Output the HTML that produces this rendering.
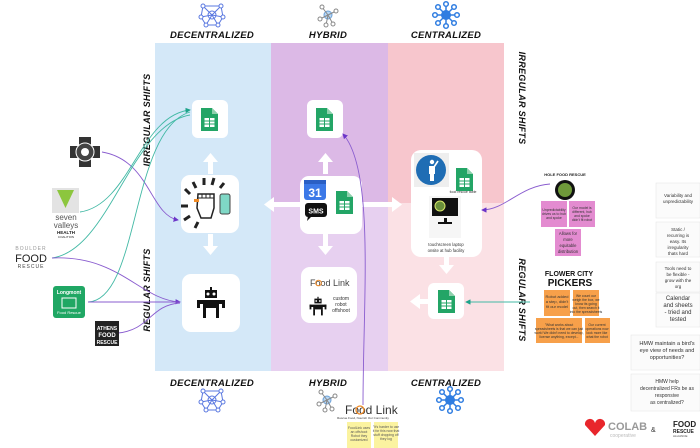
<!DOCTYPE html>
<html><head><meta charset="utf-8"><style>
html,body{margin:0;padding:0;background:#fff;}
body{width:700px;height:448px;overflow:hidden;position:relative;font-family:"Liberation Sans",sans-serif;}
svg{position:absolute;left:0;top:0;}
.h{font-family:"Liberation Sans",sans-serif;font-weight:bold;font-style:italic;fill:#111;letter-spacing:0.3px;}
.s{font-family:"Liberation Sans",sans-serif;fill:#333;}
</style></head><body>
<svg width="700" height="448" viewBox="0 0 700 448">
<defs>
<g id="sheet"><path d="M0 0h11l6 6v17h-17z" fill="#23a566"/><path d="M11 0v6h6z" fill="#8ed1ad"/><rect x="3.5" y="10" width="10" height="9" fill="#fff"/><path d="M3.5 13h10M3.5 16h10M8.5 10v9" stroke="#23a566" stroke-width="1"/></g>
<marker id="ap" markerWidth="6" markerHeight="6" refX="5" refY="3" orient="auto"><path d="M0 0L6 3L0 6z" fill="#6b35c9"/></marker>
<marker id="at" markerWidth="6" markerHeight="6" refX="5" refY="3" orient="auto"><path d="M0 0L6 3L0 6z" fill="#1ea38a"/></marker>
<g id="net"><circle cx="0" cy="0" r="4" fill="none" stroke="#5a78e0"/><g stroke="#5a78e0" fill="none"><path d="M-9 -9L0 0L9 -9M-11 2L0 0L11 2M-6 10L0 0L6 10M-9 -9L-11 2L-6 10L6 10L11 2L9 -9L-9 -9"/></g><g fill="#fff" stroke="#5a78e0"><circle cx="-9" cy="-9" r="2"/><circle cx="9" cy="-9" r="2"/><circle cx="-11" cy="2" r="2"/><circle cx="11" cy="2" r="2"/><circle cx="-6" cy="10" r="2"/><circle cx="6" cy="10" r="2"/></g></g>
<g id="hyb"><circle r="4" fill="#b9d8f5" stroke="#6ba0d8"/><g stroke="#888" fill="none"><path d="M0 0L-6 -8M0 0L8 -4M0 0L-8 4M0 0L5 9M0 0L-2 10"/></g><g fill="#fff" stroke="#888"><circle cx="-6" cy="-8" r="2"/><circle cx="8" cy="-4" r="2"/><circle cx="-8" cy="4" r="2"/><circle cx="5" cy="9" r="2"/><circle cx="-2" cy="10" r="2"/></g></g>
<g id="cen"><circle r="5" fill="#2f7de1"/><g stroke="#2f7de1" stroke-width="1.5"><path d="M0 -11V11M-11 0H11M-8 -8L8 8M8 -8L-8 8"/></g><g fill="#fff" stroke="#2f7de1" stroke-width="1.5"><circle cx="0" cy="-11" r="2.3"/><circle cx="0" cy="11" r="2.3"/><circle cx="-11" cy="0" r="2.3"/><circle cx="11" cy="0" r="2.3"/><circle cx="-8" cy="-8" r="2.3"/><circle cx="8" cy="8" r="2.3"/><circle cx="8" cy="-8" r="2.3"/><circle cx="-8" cy="8" r="2.3"/></g></g>
<g id="robot"><rect x="-6" y="-14" width="12" height="8" fill="#111"/><circle cx="-3" cy="-10" r="1.5" fill="#fff"/><circle cx="3" cy="-10" r="1.5" fill="#fff"/><rect x="-1" y="-17" width="2" height="3" fill="#111"/><rect x="-14" y="-4" width="28" height="4" fill="#111"/><rect x="-14" y="-4" width="3" height="8" fill="#111"/><rect x="11" y="-4" width="3" height="8" fill="#111"/><rect x="-8" y="0" width="16" height="4" fill="#111"/><rect x="-8" y="4" width="3" height="10" fill="#111"/><rect x="5" y="4" width="3" height="10" fill="#111"/></g>
</defs>
<rect x="155" y="43" width="116" height="328" fill="#d4e8f8"/>
<rect x="271" y="43" width="117" height="160" fill="#dcb9e6"/>
<rect x="271" y="203" width="117" height="168" fill="#e7d0f0"/>
<rect x="388" y="43" width="116" height="160" fill="#f7c6cd"/>
<rect x="388" y="203" width="116" height="168" fill="#fbe1e5"/>
<use href="#net" x="212" y="15"/><use href="#hyb" x="328" y="15"/><use href="#cen" x="446" y="15"/>
<text class="h" x="212" y="38" font-size="9.5" text-anchor="middle">DECENTRALIZED</text>
<text class="h" x="328" y="38" font-size="9.5" text-anchor="middle">HYBRID</text>
<text class="h" x="446" y="38" font-size="9.5" text-anchor="middle">CENTRALIZED</text>
<text class="h" x="212" y="386" font-size="9.5" text-anchor="middle">DECENTRALIZED</text>
<text class="h" x="328" y="386" font-size="9.5" text-anchor="middle">HYBRID</text>
<text class="h" x="446" y="386" font-size="9.5" text-anchor="middle">CENTRALIZED</text>
<use href="#net" x="212" y="400"/><use href="#hyb" x="327" y="400"/><use href="#cen" x="450" y="400"/>
<text class="h" font-size="9" transform="translate(150,120) rotate(-90)" text-anchor="middle">IRREGULAR SHIFTS</text>
<text class="h" font-size="9" transform="translate(150,290) rotate(-90)" text-anchor="middle">REGULAR SHIFTS</text>
<text class="h" font-size="9" transform="translate(519,98) rotate(90)" text-anchor="middle">IRREGULAR SHIFTS</text>
<text class="h" font-size="9" transform="translate(519,300) rotate(90)" text-anchor="middle">REGULAR SHIFTS</text>
<g fill="#fff">
<rect x="208" y="160" width="5" height="14"/><path d="M203 162l7.5-9l7.5 9z"/>
<rect x="208" y="234" width="5" height="14"/><path d="M203 246l7.5 9l7.5-9z"/>
<rect x="323" y="160" width="5" height="14"/><path d="M318 162l7.5-9l7.5 9z"/>
<rect x="323" y="234" width="5" height="14"/><path d="M318 246l7.5 9l7.5-9z"/>
<rect x="272" y="202" width="28" height="5"/><path d="M274 197l-10 7.5l10 7.5z"/>
<rect x="362" y="202" width="32" height="5"/><path d="M392 197l10 7.5l-10 7.5z"/>
<rect x="444" y="257" width="5" height="10"/><path d="M439 265l7.5 9l7.5-9z"/>
<rect x="418" y="299" width="10" height="5"/><path d="M420 294l-10 7.5l10 7.5z"/>
</g>
<g fill="#fff">
<rect x="192" y="100" width="36" height="38" rx="6"/>
<rect x="181" y="175" width="58" height="58" rx="9"/>
<rect x="182" y="274" width="58" height="58" rx="9"/>
<rect x="307" y="100" width="36" height="38" rx="6"/>
<rect x="300" y="176" width="62" height="58" rx="9"/>
<rect x="301" y="267" width="56" height="56" rx="9"/>
<rect x="411" y="150" width="71" height="107" rx="10"/>
<rect x="428" y="283" width="36" height="36" rx="6"/>
</g>
<use href="#sheet" x="201" y="108"/><use href="#sheet" x="316" y="108"/><use href="#sheet" x="438" y="290"/>
<g transform="translate(208,204)">
<g stroke="#222" stroke-width="3"><path d="M-18 -10l-5 -5M-12 -16l-3 -6M-4 -19v-7M4 -19l2 -7M12 -16l4 -5M-20 2h-7M-18 12l-6 4M-10 18l-3 6"/></g>
<path d="M-10 -10h16v14l-3 10h-10l-4 -10z" fill="#fff" stroke="#222" stroke-width="1.5"/>
<path d="M-10 -10v4h16M-6 -10v4M-2 -10v4M2 -10v4" stroke="#222" fill="none"/>
<rect x="-14" y="-5" width="5" height="3" fill="#f08a25"/>
<rect x="12" y="-10" width="10" height="20" rx="2" fill="#7fd8c6" stroke="#444"/>
</g>
<use href="#robot" x="211" y="304"/>
<rect x="304" y="180" width="22" height="20" rx="3" fill="#3b78e7"/><rect x="304" y="180" width="22" height="4" fill="#2a5fc4"/>
<text x="315" y="197" font-size="12" fill="#fff" text-anchor="middle" font-weight="bold">31</text>
<rect x="305" y="203" width="22" height="14" rx="3" fill="#111"/><path d="M308 216l-1 5l5-5z" fill="#111"/>
<text x="316" y="213.5" font-size="7" fill="#fff" text-anchor="middle" font-weight="bold">SMS</text>
<use href="#sheet" x="336" y="191"/>
<text x="310" y="286" font-size="9" fill="#444">Food Link</text><circle cx="318.5" cy="283" r="2.8" fill="none" stroke="#f08a25"/>
<use href="#robot" x="318" y="307" transform="translate(318,307) scale(0.6) translate(-318,-307)"/>
<text class="s" font-size="5" x="341" y="300" text-anchor="middle">custom</text>
<text class="s" font-size="5" x="341" y="306" text-anchor="middle">robot</text>
<text class="s" font-size="5" x="341" y="312" text-anchor="middle">offshoot</text>
<rect x="414" y="153" width="35" height="34" fill="#eee"/><circle cx="431" cy="170" r="15" fill="#1f6db4"/>
<circle cx="432" cy="162" r="2.2" fill="#fff"/><path d="M429 166h6v8h-1v7h-4v-7h-1z" fill="#fff"/><path d="M434 167l4-6" stroke="#fff" stroke-width="1.6"/>
<use href="#sheet" x="456" y="168"/>
<text class="s" font-size="3.5" x="463" y="193" text-anchor="middle">food rescue table</text>
<rect x="429" y="196" width="32" height="42" fill="#f6f6f6"/>
<rect x="432" y="198" width="26" height="18" fill="#111"/><circle cx="440" cy="206" r="5" fill="#6a8f3b" stroke="#d8e66a"/><rect x="444" y="218" width="3" height="4" fill="#111"/><rect x="438" y="222" width="14" height="2" fill="#111"/>
<text class="s" font-size="4.2" x="446" y="246" text-anchor="middle">touchscreen laptop</text>
<text class="s" font-size="4.2" x="446" y="252" text-anchor="middle">onsite at hub facility</text>
<g fill="none" stroke-width="0.9">
<path d="M102 152C150 160 150 215 178 220" stroke="#8a5dcf" marker-end="url(#ap)"/>
<path d="M80 212C130 205 140 115 190 110" stroke="#43b9a5" marker-end="url(#at)"/>
<path d="M52 258C110 250 130 125 190 115" stroke="#43b9a5"/>
<path d="M52 258C120 255 140 300 180 302" stroke="#8a5dcf" marker-end="url(#ap)"/>
<path d="M88 302C140 300 130 130 190 112" stroke="#43b9a5"/>
<path d="M88 302H180" stroke="#8a5dcf"/>
<path d="M118 333C150 330 150 305 180 303" stroke="#8a5dcf"/>
<path d="M550 184C520 186 505 210 482 210" stroke="#8a5dcf" marker-end="url(#ap)"/>
<path d="M530 302H466" stroke="#43b9a5" marker-end="url(#at)"/>
<path d="M363 405C363 300 375 170 343 134" stroke="#8a5dcf" marker-end="url(#ap)"/>
</g>
<g transform="translate(85,152)"><path d="M-6 -15h12v9h9v12h-9v9h-12v-9h-9v-12h9z" fill="#333"/><circle r="9" fill="#444" stroke="#fff"/><circle r="4" fill="#fff"/></g>
<rect x="52" y="188" width="27" height="25" fill="#e3e3e3"/><path d="M57 190h17l-8.5 18z" fill="#8cc63e"/>
<text x="66" y="220" font-size="8" fill="#555" text-anchor="middle">seven</text>
<text x="66" y="228" font-size="8" fill="#555" text-anchor="middle">valleys</text>
<text x="66" y="234" font-size="4.5" fill="#222" text-anchor="middle" font-weight="bold">HEALTH</text>
<text x="66" y="238" font-size="3" fill="#222" text-anchor="middle">COALITION</text>
<text x="31" y="250" font-size="5" fill="#999" text-anchor="middle" letter-spacing="1">BOULDER</text>
<text x="31" y="262" font-size="11" fill="#222" text-anchor="middle">FOOD</text>
<text x="31" y="268" font-size="5" fill="#444" text-anchor="middle" letter-spacing="1">RESCUE</text>
<rect x="53" y="286" width="32" height="32" rx="3" fill="#20a764"/>
<text x="69" y="294" font-size="5" fill="#fff" text-anchor="middle" font-weight="bold">Longmont</text>
<text x="69" y="314" font-size="4" fill="#fff" text-anchor="middle">Food Rescue</text>
<rect x="62" y="298" width="14" height="10" fill="none" stroke="#fff"/>
<rect x="95" y="321" width="24" height="25" fill="#222"/>
<text x="107" y="330" font-size="5" fill="#fff" text-anchor="middle" font-weight="bold">ATHENS</text>
<text x="107" y="337" font-size="6" fill="#fff" text-anchor="middle" font-weight="bold">FOOD</text>
<text x="107" y="344" font-size="5" fill="#fff" text-anchor="middle" font-weight="bold">RESCUE</text>
<circle cx="565" cy="190" r="10" fill="#111"/><circle cx="565" cy="190" r="7" fill="#6f9a3a"/>
<text x="565" y="176" font-size="4" fill="#222" text-anchor="middle" font-weight="bold">HOLE FOOD RESCUE</text>
<g font-size="3.4" fill="#333" text-anchor="middle">
<rect x="541" y="201" width="26" height="26" fill="#e38bd0"/><text x="554" y="211">Unpredictability</text><text x="554" y="215">drives us to hub</text><text x="554" y="219">and spoke</text>
<rect x="569" y="201" width="26" height="26" fill="#e38bd0"/><text x="582" y="209">Our model is</text><text x="582" y="213">different, hub</text><text x="582" y="217">and spoke</text><text x="582" y="221">didn't fit robot</text>
<rect x="555" y="229" width="26" height="27" fill="#e38bd0"/>
<text x="568" y="235" font-size="4.2">Allows for</text><text x="568" y="241" font-size="4.2">more</text><text x="568" y="247" font-size="4.2">equitable</text><text x="568" y="253" font-size="4.2">distribution</text>
</g>
<text x="569" y="276" font-size="7" fill="#111" text-anchor="middle" font-weight="bold">FLOWER CITY</text>
<text x="570" y="286" font-size="10" fill="#111" text-anchor="middle" font-weight="bold">PICKERS</text>
<g font-size="3.4" fill="#333" text-anchor="middle">
<rect x="544" y="290" width="26" height="26" fill="#f7a04a"/><text x="557" y="298" font-size="4">Robot added</text><text x="557" y="303" font-size="4">a step, didn't</text><text x="557" y="308" font-size="4">fit our model</text>
<rect x="573" y="290" width="26" height="26" fill="#f7a04a"/><text x="586" y="297">We count our</text><text x="586" y="301">weigh the box, we</text><text x="586" y="305">know its going</text><text x="586" y="309">out, then search it</text><text x="586" y="313">into the spreadsheets</text>
<rect x="536" y="318" width="46" height="25" fill="#f7a04a"/><text x="559" y="326">"What works about</text><text x="559" y="330">spreadsheets is that we can just</text><text x="559" y="334">work! We didn't need to develop,</text><text x="559" y="338">license anything, except...</text>
<rect x="585" y="318" width="25" height="25" fill="#f7a04a"/><text x="597" y="326">Our current</text><text x="597" y="330">operations now</text><text x="597" y="334">look more like</text><text x="597" y="338">what the robot</text>
</g>
<g fill="#fbfbfb" stroke="#e4e4e4" stroke-width="0.5">
<rect x="656" y="183" width="44" height="35"/><rect x="656" y="222" width="44" height="35"/><rect x="656" y="262" width="44" height="30"/><rect x="656" y="293" width="44" height="34"/>
<rect x="631" y="335" width="69" height="35"/><rect x="631" y="374" width="69" height="37"/>
</g>
<g class="s" font-size="4.5" text-anchor="middle" fill="#555">
<text x="678" y="197">Variability and</text><text x="678" y="203">unpredictability</text>
<text x="678" y="231">Static /</text><text x="678" y="237">recurring is</text><text x="678" y="243">easy. Its</text><text x="678" y="249">irregularity</text><text x="678" y="255">thats hard</text>
<text x="678" y="270">Tools need to</text><text x="678" y="276">be flexible -</text><text x="678" y="282">grow with the</text><text x="678" y="288">org</text>
<text x="678" y="300" font-size="6">Calendar</text><text x="678" y="307" font-size="6">and sheets</text><text x="678" y="314" font-size="6">- tried and</text><text x="678" y="321" font-size="6">tested</text>
<text x="667" y="345" font-size="5.5">HMW maintain a bird's</text><text x="667" y="352" font-size="5.5">eye view of needs and</text><text x="667" y="359" font-size="5.5">opportunities?</text>
<text x="667" y="383" font-size="5">HMW help</text><text x="667" y="390" font-size="5">decentralized FRs be as</text><text x="667" y="397" font-size="5">responsive</text><text x="667" y="404" font-size="5">as centralized?</text>
</g>
<text x="345" y="414" font-size="12" fill="#333">Food Link</text><circle cx="360" cy="410" r="4" fill="none" stroke="#f08a25" stroke-width="1.3"/>
<text x="363" y="419" font-size="3" fill="#333" text-anchor="middle">Rescue Food, Nourish Our Community</text>
<rect x="347" y="422" width="24" height="26" fill="#fbf3a0"/><rect x="374" y="422" width="24" height="26" fill="#fbf3a0"/>
<g font-size="3.4" fill="#555" text-anchor="middle"><text x="359" y="429">FoodLink uses</text><text x="359" y="433">an offshoot</text><text x="359" y="437">Robot they</text><text x="359" y="441">customized</text>
<text x="386" y="428">"It's harder to use</text><text x="386" y="432">it for this now that</text><text x="386" y="436">stuff dropping off</text><text x="386" y="440">they log</text></g>
<path d="M585 425a5 5 0 0 1 10-2a5 5 0 0 1 10 2l-10 11z" fill="#e8262c"/>
<text x="608" y="430" font-size="11" fill="#999" font-weight="bold">COLAB</text>
<text x="610" y="437" font-size="5" fill="#bbb">cooperative</text>
<text x="651" y="432" font-size="7" fill="#333">&amp;</text>
<text x="673" y="427" font-size="8" fill="#222" font-weight="bold">FOOD</text>
<text x="673" y="433" font-size="5" fill="#222" font-weight="bold">RESCUE</text>
<text x="673" y="437" font-size="3" fill="#444">ALLIANCE</text>
</svg>
</body></html>
